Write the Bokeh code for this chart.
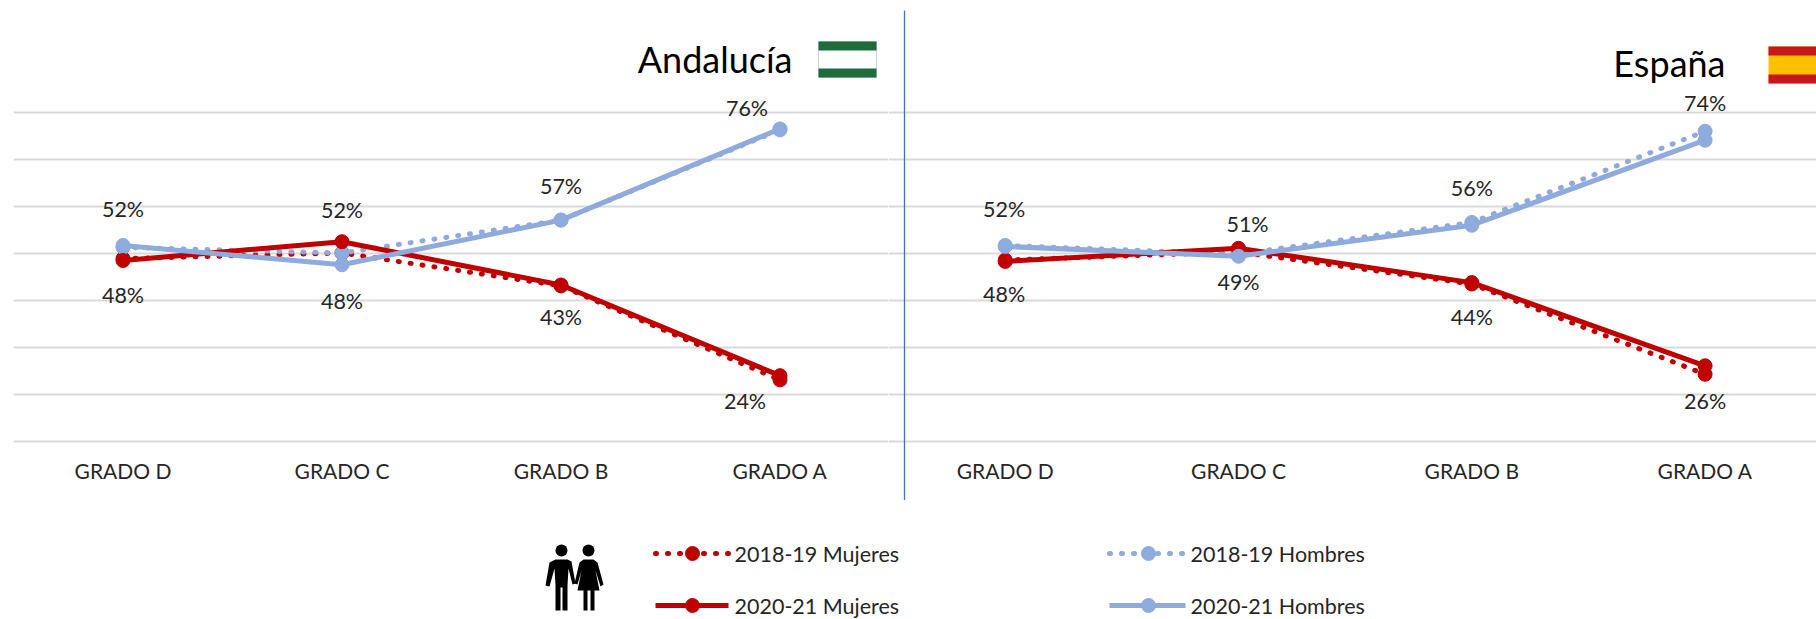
from bokeh.plotting import figure
from bokeh.layouts import column, row
from bokeh.models import Range1d, FixedTicker, ColumnDataSource
from bokeh.core.properties import value
from bokeh.embed import file_html
from bokeh.resources import INLINE

categories = ["GRADO D", "GRADO C", "GRADO B", "GRADO A"]
grid_values = [10, 20, 30, 40, 50, 60, 70, 80]

and_m_1819 = [48.8, 50.0, 43.0, 23.0]
and_h_1819 = [51.2, 50.0, 57.0, 76.2]
and_m_2021 = [48.4, 52.4, 43.2, 23.9]
and_h_2021 = [51.6, 47.5, 57.0, 76.4]

esp_m_1819 = [48.5, 50.2, 43.4, 24.2]
esp_h_1819 = [51.6, 49.8, 56.5, 75.9]
esp_m_2021 = [48.2, 51.0, 43.7, 26.0]
esp_h_2021 = [51.4, 49.3, 55.9, 74.0]

and_m_labels = ["48%", "52%", "43%", "24%"]
and_h_labels = ["52%", "48%", "57%", "76%"]
esp_m_labels = ["48%", "51%", "44%", "26%"]
esp_h_labels = ["52%", "49%", "56%", "74%"]

legend_names = ["2018-19 Mujeres", "2020-21 Mujeres", "2018-19 Hombres", "2020-21 Hombres"]

# label offsets in pixels (layout, not data)
and_m_off = ([0, 0, 0, -35], [34, -32, 32, 25])
and_h_off = ([0, 0, 0, -33], [-36, 36, -34, -21])
esp_m_off = ([-1, 9, 0, 0], [33, -24, 34, 35])
esp_h_off = ([-1, 0, 0, 0], [-37, 26, -37, -37])

RED = "#C00000"
BLUE = "#8FAADC"
GRID = "#D9D9D9"
TXT = "#262626"
FONT = "Lato"
LABEL_PX = "21.5px"
AXIS_PX = "21px"
LEGEND_PX = "21.5px"
TITLE_PX = "36px"
SOLID_W = 5
DOT_W = 5
DOT_DASH = "1 11"
MARK = 14

TOP_BOTTOM = 500
PX_PER_UNIT = 4.7
Y50 = 252.5


def yv(py):
    return 50 + (Y50 - py) / PX_PER_UNIT


def panel(width, left_px, right_px, x0_px, step, border_left, series, labels):
    xv = lambda px: (px - x0_px) / step
    p = figure(width=width, height=TOP_BOTTOM, output_backend="svg", toolbar_location=None,
               x_range=Range1d(xv(left_px), xv(right_px)), y_range=Range1d(yv(TOP_BOTTOM), yv(0)),
               y_axis_location=None, min_border=0, min_border_left=border_left, min_border_right=0,
               min_border_top=0, min_border_bottom=0, outline_line_color=None)
    p.background_fill_color = None
    p.border_fill_color = None
    p.xgrid.visible = False
    p.ygrid.ticker = FixedTicker(ticks=grid_values)
    p.ygrid.grid_line_color = GRID
    p.ygrid.grid_line_width = 2
    ax = p.xaxis[0]
    ax.ticker = FixedTicker(ticks=list(range(len(categories))))
    ax.major_label_overrides = {i: c for i, c in enumerate(categories)}
    ax.fixed_location = 10
    ax.axis_line_color = None
    ax.major_tick_line_color = None
    ax.minor_tick_line_color = None
    ax.major_label_standoff = 11
    ax.major_label_text_font = FONT
    ax.major_label_text_font_size = AXIS_PX
    ax.major_label_text_color = TXT
    xs = list(range(len(categories)))
    for vals, color, dotted in series:
        if dotted:
            p.line(xs, vals, line_color=color, line_width=DOT_W, line_dash=DOT_DASH, line_cap="round")
        else:
            p.line(xs, vals, line_color=color, line_width=SOLID_W)
        p.scatter(xs, vals, size=MARK, fill_color=color, line_color=color)
    for vals, texts, (xo, yo) in labels:
        src = ColumnDataSource(dict(x=xs, y=vals, t=texts, xo=xo, yo=yo))
        p.text("x", "y", text="t", source=src, x_offset="xo", y_offset="yo", text_align="center",
               text_baseline="middle", text_font=value(FONT), text_font_size=LABEL_PX, text_color=TXT)
    return p, xv


left, lx = panel(888, 13, 888, 122.5, 219.0, 13,
                 [(and_m_1819, RED, True), (and_h_1819, BLUE, True), (and_m_2021, RED, False), (and_h_2021, BLUE, False)],
                 [(and_m_2021, and_m_labels, and_m_off), (and_h_2021, and_h_labels, and_h_off)])
right, rx = panel(928, 888, 1816, 1004.7, 233.3, 0,
                  [(esp_m_1819, RED, True), (esp_h_1819, BLUE, True), (esp_m_2021, RED, False), (esp_h_2021, BLUE, False)],
                  [(esp_m_2021, esp_m_labels, esp_m_off), (esp_h_2021, esp_h_labels, esp_h_off)])

# panel titles and flags
left.text([lx(792)], [yv(58)], text=["Andalucía"], text_align="right", text_baseline="middle",
          text_font=value(FONT), text_font_size=TITLE_PX, text_color="#000000")
left.quad(left=[lx(818)], right=[lx(876)], top=[yv(41)], bottom=[yv(77)], fill_color="#FFFFFF", line_color="#C9D6D0", line_width=1)
left.quad(left=[lx(818), lx(818)], right=[lx(876), lx(876)], top=[yv(41), yv(68)], bottom=[yv(50), yv(77)],
          fill_color="#1E6B3C", line_color=None)
right.text([rx(1725)], [yv(62)], text=["España"], text_align="right", text_baseline="middle",
           text_font=value(FONT), text_font_size=TITLE_PX, text_color="#000000")
right.quad(left=[rx(1768)], right=[rx(1830)], top=[yv(46)], bottom=[yv(83)], fill_color="#FFC000", line_color=None)
right.quad(left=[rx(1768), rx(1768)], right=[rx(1830), rx(1830)], top=[yv(46), yv(74)], bottom=[yv(55), yv(83)],
           fill_color="#C8161D", line_color=None)

# divider between panels
right.segment([rx(904)], [yv(10)], [rx(904)], [yv(TOP_BOTTOM)], line_color="#4472C4", line_width=1.3)

# legend band (ranges follow the page's pixels)
foot = figure(width=1816, height=119, output_backend="svg", toolbar_location=None,
              x_range=Range1d(0, 1816), y_range=Range1d(619, 500), x_axis_location=None, y_axis_location=None,
              min_border=0, outline_line_color=None)
foot.grid.visible = False
foot.background_fill_color = None
foot.border_fill_color = None

# couple pictogram
foot.circle([561, 588], [550, 550], radius=6, fill_color="#000000", line_color=None)
foot.patch([555, 567, 571, 575, 572, 568, 567, 567, 562, 562, 560, 560, 555, 555, 554, 549, 545, 549],
           [559, 559, 561, 583, 584, 568, 585, 610, 610, 587, 587, 610, 610, 585, 568, 586, 585, 562],
           fill_color="#000000", line_color=None)
foot.patch([583, 593, 597, 603, 600, 595, 599, 594, 594, 590, 590, 587, 587, 583, 583, 577, 581, 577, 574, 579],
           [559, 559, 562, 584, 586, 570, 590, 590, 610, 610, 590, 590, 610, 610, 590, 590, 570, 584, 583, 562],
           fill_color="#000000", line_color=None)

# legend keys and names
rows_y = [553, 605]
cols = [(655, 728, 692, 734), (1109, 1185, 1148, 1190)]
keys = [(0, 0, RED, True), (0, 1, RED, False), (1, 0, BLUE, True), (1, 1, BLUE, False)]
for name, (c, r, color, dotted) in zip(legend_names, keys):
    x0, x1, xm, xt = cols[c]
    y = rows_y[r]
    if dotted:
        foot.line([x0, x1], [y, y], line_color=color, line_width=DOT_W, line_dash=DOT_DASH, line_cap="round")
    else:
        foot.line([x0, x1], [y, y], line_color=color, line_width=SOLID_W)
    foot.scatter([xm], [y], size=MARK, fill_color=color, line_color=color)
    foot.text([xt], [y], text=[name], text_align="left", text_baseline="middle", text_font=value(FONT),
              text_font_size=LEGEND_PX, text_color=TXT)

layout = column(row(left, right, spacing=0), foot, spacing=0)
open("out.html", "w").write(file_html(layout, INLINE))
